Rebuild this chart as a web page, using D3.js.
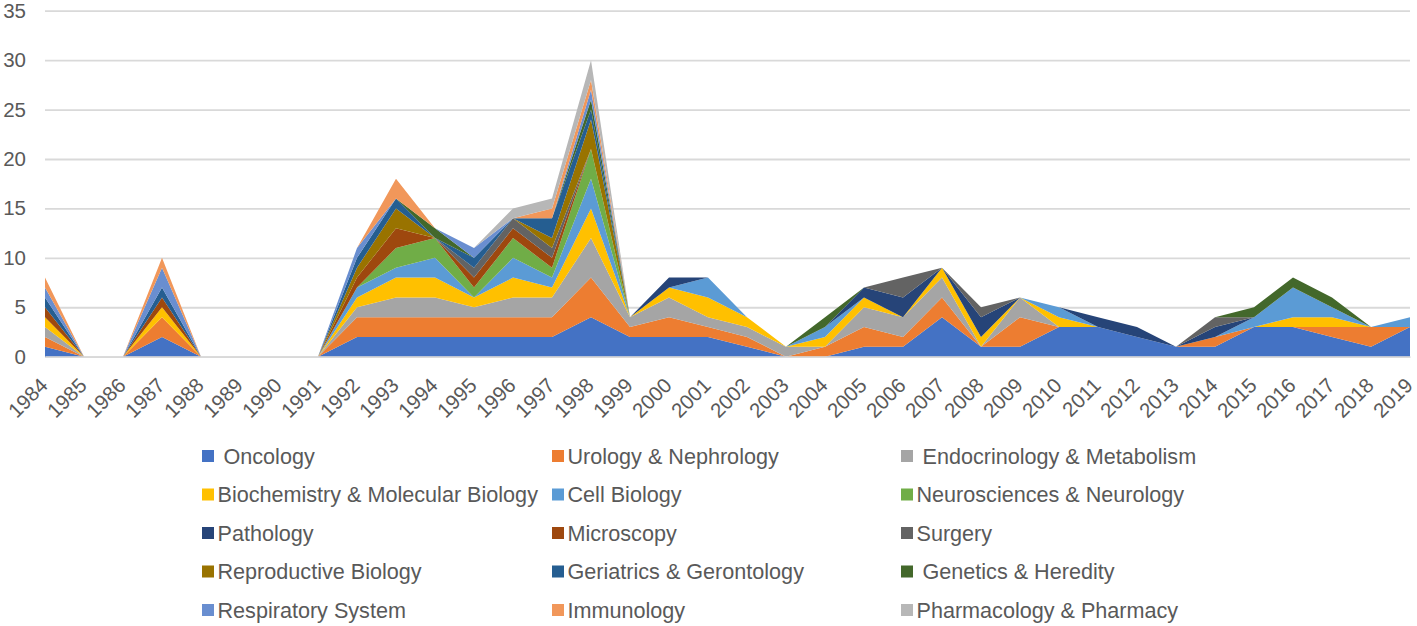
<!DOCTYPE html>
<html>
<head>
<meta charset="utf-8">
<script src="https://cdn.jsdelivr.net/npm/d3@7"></script>
<style>
  html, body { margin: 0; padding: 0; background: #fff; }
  svg { display: block; }
  text { font-family: "Liberation Sans", Arial, sans-serif; fill: #595959; }
</style>
</head>
<body>
<svg id="chart" width="1417" height="626"></svg>
<script>
const years = d3.range(1984, 2020).map(String);
const yTicks = [0, 5, 10, 15, 20, 25, 30, 35];

const seriesNames = [
  "Oncology", "Urology & Nephrology", "Endocrinology & Metabolism",
  "Biochemistry & Molecular Biology", "Cell Biology", "Neurosciences & Neurology",
  "Pathology", "Microscopy", "Surgery",
  "Reproductive Biology", "Geriatrics & Gerontology", "Genetics & Heredity",
  "Respiratory System", "Immunology", "Pharmacology & Pharmacy"
];
const legendLabels = [
  " Oncology", "Urology & Nephrology", " Endocrinology & Metabolism",
  "Biochemistry & Molecular Biology", "Cell Biology", "Neurosciences & Neurology",
  "Pathology", "Microscopy", "Surgery",
  "Reproductive Biology", "Geriatrics & Gerontology", " Genetics & Heredity",
  "Respiratory System", "Immunology", "Pharmacology & Pharmacy"
];
const seriesColors = [
  "#4472C4", "#ED7D31", "#A5A5A5", "#FFC000", "#5B9BD5", "#70AD47",
  "#264478", "#9E480E", "#636363", "#997300", "#255E91", "#43682B",
  "#698ED0", "#F1975A", "#B7B7B7"
];

//                    1984 ................................ 1999 ........................................ 2019
const oncology     = [1,0,0,2,0,0,0,0,2,2,2,2,2,2,4,2,2,2,1,0,0,1,1,4,1,1,3,3,2,1,1,3,3,2,1,3];
const urology      = [1,0,0,2,0,0,0,0,2,2,2,2,2,2,4,1,2,1,1,0,1,2,1,2,0,3,0,0,0,0,1,0,0,1,2,0];
const endocrine    = [1,0,0,0,0,0,0,0,1,2,2,1,2,2,4,1,2,1,1,1,0,2,2,2,0,2,0,0,0,0,0,0,0,0,0,0];
const biochemistry = [1,0,0,1,0,0,0,0,1,2,2,1,2,1,3,0,1,2,1,0,1,1,0,1,1,0,1,0,0,0,0,0,1,1,0,0];
const cellBiology  = [0,0,0,0,0,0,0,0,1,1,2,0,2,1,3,0,0,2,0,0,1,0,0,0,0,0,1,0,0,0,0,1,3,1,0,1];
const neuroscience = [0,0,0,0,0,0,0,0,0,2,2,1,2,1,3,0,0,0,0,0,0,0,0,0,0,0,0,0,0,0,0,0,0,0,0,0];
const pathology    = [0,0,0,0,0,0,0,0,0,0,0,0,0,0,0,0,1,0,0,0,0,1,2,0,2,0,0,1,1,0,1,0,0,0,0,0];
const microscopy   = [1,0,0,1,0,0,0,0,1,2,0,1,1,1,0,0,0,0,0,0,0,0,0,0,0,0,0,0,0,0,0,0,0,0,0,0];
const surgery      = [0,0,0,0,0,0,0,0,0,0,0,1,1,1,0,0,0,0,0,0,0,0,2,0,1,0,0,0,0,0,1,0,0,0,0,0];
const reproductive = [0,0,0,0,0,0,0,0,1,2,0,0,0,1,3,0,0,0,0,0,0,0,0,0,0,0,0,0,0,0,0,0,0,0,0,0];
const geriatrics   = [1,0,0,1,0,0,0,0,1,1,0,1,0,2,1,0,0,0,0,0,0,0,0,0,0,0,0,0,0,0,0,0,0,0,0,0];
const genetics     = [0,0,0,0,0,0,0,0,0,0,1,0,0,0,1,0,0,0,0,0,1,0,0,0,0,0,0,0,0,0,0,1,1,1,0,0];
const respiratory  = [1,0,0,2,0,0,0,0,1,0,0,1,0,0,1,0,0,0,0,0,0,0,0,0,0,0,0,0,0,0,0,0,0,0,0,0];
const immunology   = [1,0,0,1,0,0,0,0,0,2,0,0,0,1,1,0,0,0,0,0,0,0,0,0,0,0,0,0,0,0,0,0,0,0,0,0];
const pharmacology = [0,0,0,0,0,0,0,0,0,0,0,0,1,1,2,0,0,0,0,0,0,0,0,0,0,0,0,0,0,0,0,0,0,0,0,0];

const seriesValues = [oncology, urology, endocrine, biochemistry, cellBiology, neuroscience,
  pathology, microscopy, surgery, reproductive, geriatrics, genetics,
  respiratory, immunology, pharmacology];

(function () {
  const table = years.map((yr, i) => {
    const row = { year: yr };
    seriesNames.forEach((n, k) => { row[n] = seriesValues[k][i]; });
    return row;
  });

  const svg = d3.select("#chart");
  const plotLeft = 45, plotRight = 1410, plotTop = 10.7, plotBottom = 356.7;

  const x = d3.scalePoint().domain(years).range([plotLeft, plotRight]);
  const y = d3.scaleLinear().domain([0, 35]).range([plotBottom, plotTop]);

  const yAxis = svg.append("g")
    .attr("transform", `translate(${plotLeft},0)`)
    .call(d3.axisLeft(y).tickValues(yTicks).tickSize(-(plotRight - plotLeft)).tickPadding(19));
  yAxis.select(".domain").remove();
  yAxis.selectAll("line").attr("stroke", "#D9D9D9").attr("stroke-width", 1.8);
  yAxis.selectAll("text").style("font-size", "20.5px").attr("fill", "#595959")
    .style("font-family", '"Liberation Sans", Arial, sans-serif');

  const layers = d3.stack().keys(seriesNames)(table);
  const area = d3.area()
    .x(d => x(d.data.year))
    .y0(d => y(d[0]))
    .y1(d => y(d[1]));

  svg.append("g").selectAll("path")
    .data(layers)
    .join("path")
    .attr("d", area)
    .attr("fill", (d, i) => seriesColors[i]);

  const xAxis = svg.append("g")
    .attr("transform", `translate(0,${plotBottom})`)
    .call(d3.axisBottom(x).tickSize(0));
  xAxis.select(".domain").attr("stroke", "#D9D9D9").attr("stroke-width", 1.8);
  xAxis.selectAll("text")
    .attr("x", 0).attr("y", 0).attr("dy", 0)
    .attr("transform", "translate(3.5,30) rotate(-45)")
    .style("text-anchor", "end")
    .style("font-size", "20.5px")
    .style("font-family", '"Liberation Sans", Arial, sans-serif')
    .attr("fill", "#595959");

  // legend
  const colX = [202, 552, 901];
  const rowY = [456, 494.5, 533, 571.5, 610];
  const legend = svg.append("g");
  legendLabels.forEach((lab, i) => {
    const cx = colX[i % 3], cy = rowY[Math.floor(i / 3)];
    legend.append("rect")
      .attr("x", cx).attr("y", cy - 6)
      .attr("width", 12).attr("height", 12)
      .attr("fill", seriesColors[i]);
    legend.append("text")
      .attr("x", cx + 15.5).attr("y", cy)
      .attr("dy", "0.36em")
      .style("white-space", "pre")
      .style("font-size", "21.6px")
      .text(lab);
  });
})();
</script>
</body>
</html>
